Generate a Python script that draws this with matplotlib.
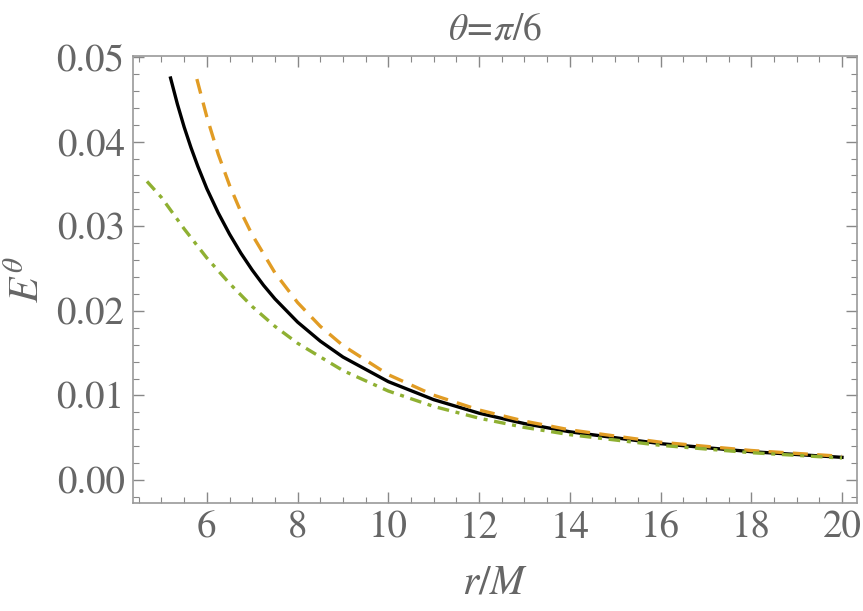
import matplotlib
matplotlib.use("Agg")
from matplotlib import pyplot as plt
from matplotlib.ticker import MultipleLocator, FormatStrFormatter

# values (smoothed by eye)
r_black = [5.2, 5.35, 5.5, 5.65, 5.8, 6.0, 6.25, 6.5, 6.75, 7.0, 7.25, 7.5, 8.0,
           8.5, 9.0, 10.0, 11.0, 12.0, 13.0, 14.0, 16.0, 18.0, 20.0]
e_black = [0.04752, 0.04445, 0.04172, 0.03930, 0.03710, 0.03444, 0.03159, 0.02907,
           0.02682, 0.02482, 0.02302, 0.02142, 0.01867, 0.01642, 0.01454, 0.01163,
           0.00950, 0.00790, 0.00667, 0.00570, 0.00430, 0.00335, 0.00268]

r_orange = [5.78, 6.0, 6.25, 6.5, 6.75, 7.0, 7.5, 8.0, 8.5, 9.0, 10.0, 11.0, 12.0,
            13.0, 14.0, 16.0, 18.0, 20.0]
e_orange = [0.04740, 0.04292, 0.03853, 0.03484, 0.03170, 0.02898, 0.02450, 0.02098,
            0.01817, 0.01590, 0.01245, 0.01003, 0.00828, 0.00696, 0.00593, 0.00447,
            0.00349, 0.00280]

r_green = [4.68, 5.0, 5.5, 6.0, 6.5, 7.0, 7.5, 8.0, 9.0, 10.0, 11.0, 12.0, 13.0,
           14.0, 16.0, 18.0, 20.0]
e_green = [0.03530, 0.03340, 0.02969, 0.02625, 0.02324, 0.02051, 0.01817, 0.01617,
           0.01294, 0.01052, 0.00870, 0.00731, 0.00622, 0.00536, 0.00410, 0.00323,
           0.00260]

gray = "#666666"
plt.rcParams["mathtext.fontset"] = "stix"
plt.rcParams["font.family"] = ["STIXGeneral", "Liberation Serif", "DejaVu Serif"]

fig = plt.figure(figsize=(8.63, 6.11), dpi=100)
ax = fig.add_axes([0.154, 0.177, 0.839, 0.731])

ax.plot(r_black, e_black, color="black", lw=2.4, solid_joinstyle="round")
ax.plot(r_orange, e_orange, color="#E19C24", lw=2.4, dashes=(4.5, 2.8))
ax.plot(r_green, e_green, color="#8FB032", lw=2.4, dashes=(3.5, 2.0, 1.2, 2.0))

ax.set_xlim(4.37, 20.33)
ax.set_ylim(-0.0027, 0.0501)
ax.xaxis.set_major_locator(MultipleLocator(2))
ax.xaxis.set_minor_locator(MultipleLocator(0.5))
ax.yaxis.set_major_locator(MultipleLocator(0.01))
ax.yaxis.set_minor_locator(MultipleLocator(0.002))
ax.yaxis.set_major_formatter(FormatStrFormatter("%.2f"))

ax.tick_params(which="both", direction="in", top=True, right=True,
               color="#888888", labelcolor=gray, labelsize=28, pad=6)
ax.tick_params(which="major", length=8, width=1.0)
ax.tick_params(which="minor", length=4, width=0.8)
for s in ax.spines.values():
    s.set_color("#999999")
    s.set_linewidth(1.2)

ax.set_xlabel(r"$r/M$", fontsize=30, color=gray, labelpad=14)
ax.set_ylabel(r"$E^{\theta}$", fontsize=30, color=gray, labelpad=6)
ax.set_title(r"$\theta\!=\!\pi/6$", fontsize=27, color=gray, pad=12)

fig.savefig("out.png")
